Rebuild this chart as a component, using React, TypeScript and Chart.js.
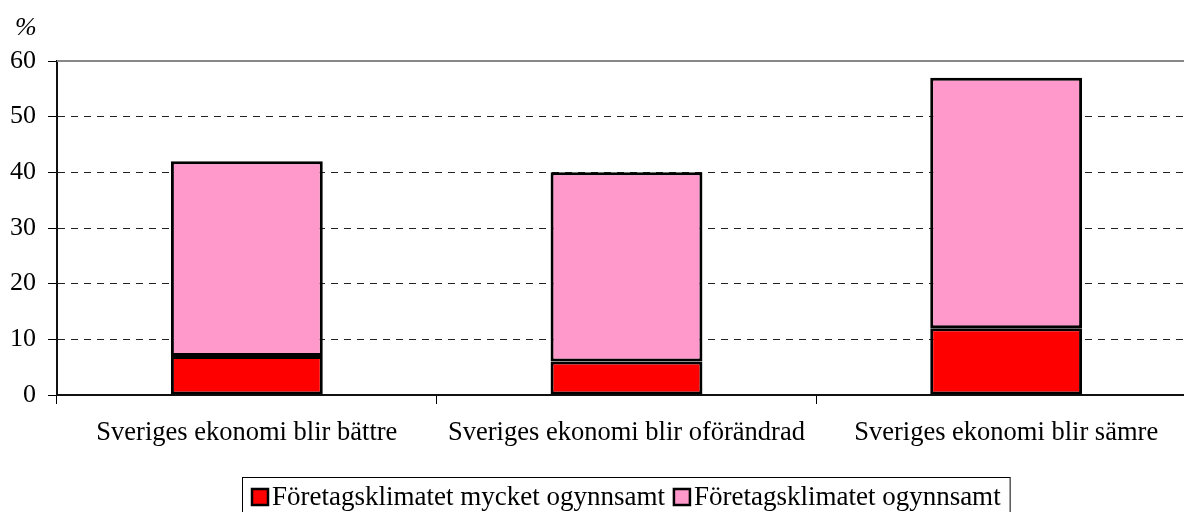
import React, { useEffect, useRef } from "react";
import { Chart, registerables } from "chart.js";

Chart.register(...registerables);

const categories = [
  "Sveriges ekonomi blir bättre",
  "Sveriges ekonomi blir oförändrad",
  "Sveriges ekonomi blir sämre",
];
const seriesLabels = ["Företagsklimatet mycket ogynnsamt", "Företagsklimatet ogynnsamt"];
const mycketOgynnsamt = [7, 6, 12];
const ogynnsamt = [35, 34, 45];
const seriesColors = ["#FF0000", "#FF99CC"];
const yMin = 0;
const yMax = 60;
const yStep = 10;
const unitLabel = "%";

const FONT = "'Liberation Serif', 'Times New Roman', serif";

const overlayPlugin = {
  id: "overlay",
  afterDraw(chart: any) {
    const { ctx, chartArea, scales } = chart;
    ctx.save();
    // solid top gridline
    const yTop = scales.y.getPixelForValue(yMax);
    ctx.strokeStyle = "#888888";
    ctx.lineWidth = 2;
    ctx.beginPath();
    ctx.moveTo(chartArea.left, yTop);
    ctx.lineTo(chartArea.right, yTop);
    ctx.stroke();

    // unit label
    ctx.fillStyle = "#000";
    ctx.font = `italic 26px ${FONT}`;
    ctx.textAlign = "left";
    ctx.textBaseline = "alphabetic";
    ctx.fillText(unitLabel, 15, 35);

    // legend
    ctx.font = `27px ${FONT}`;
    const boxSize = 16;
    const gap = 3;
    const itemSpacing = 8;
    const padX = 9;
    const legendLeft = 242;
    const legendTop = 477;
    const baseline = 505;
    const widths = chart.data.datasets.map((d: any) => ctx.measureText(d.label).width);
    let total = padX * 2;
    widths.forEach((w: number, i: number) => {
      total += boxSize + 2 + gap + w + (i > 0 ? itemSpacing : 0);
    });
    ctx.strokeStyle = "#000";
    ctx.lineWidth = 1;
    ctx.strokeRect(legendLeft + 0.5, legendTop + 0.5, total, 60);
    let x = legendLeft + padX;
    chart.data.datasets.forEach((d: any, i: number) => {
      if (i > 0) x += itemSpacing;
      ctx.fillStyle = d.backgroundColor;
      ctx.fillRect(x + 1, 489, boxSize, boxSize);
      ctx.lineWidth = 2.5;
      ctx.strokeStyle = "#000";
      ctx.strokeRect(x + 1, 489, boxSize, boxSize);
      x += boxSize + 2 + gap;
      ctx.fillStyle = "#000";
      ctx.fillText(d.label, x, baseline);
      x += widths[i];
    });
    ctx.restore();
  },
};

export default function App() {
  const canvasRef = useRef<HTMLCanvasElement | null>(null);

  useEffect(() => {
    if (!canvasRef.current) return;
    const chart = new Chart(canvasRef.current, {
      type: "bar",
      data: {
        labels: categories,
        datasets: [
          {
            label: seriesLabels[0],
            data: mycketOgynnsamt,
            backgroundColor: seriesColors[0],
            borderColor: "#000",
            borderWidth: 3,
            borderSkipped: false,
          },
          {
            label: seriesLabels[1],
            data: ogynnsamt,
            backgroundColor: seriesColors[1],
            borderColor: "#000",
            borderWidth: 3,
            borderSkipped: false,
          },
        ],
      },
      options: {
        animation: false,
        responsive: false,
        devicePixelRatio: 1,
        layout: { padding: { top: 61, left: 0, right: 4, bottom: 0 } },
        datasets: { bar: { barPercentage: 0.4, categoryPercentage: 1 } },
        plugins: {
          legend: { display: false },
          tooltip: { enabled: false },
          title: { display: false },
        },
        scales: {
          x: {
            stacked: true,
            offset: true,
            grid: {
              display: true,
              drawOnChartArea: false,
              drawTicks: true,
              tickLength: 9,
              tickColor: "#000",
              tickWidth: 1,
              offset: true,
            },
            border: { display: true, color: "#111", width: 2 },
            ticks: {
              color: "#000",
              font: { family: FONT, size: 26.5 },
              padding: 13,
              maxRotation: 0,
              autoSkip: false,
            },
            afterFit: (scale: any) => {
              scale.height = 117;
            },
          },
          y: {
            stacked: true,
            min: yMin,
            max: yMax,
            grid: {
              color: (c: any) => (c.tick && c.tick.value === yMax ? "rgba(0,0,0,0)" : "#222"),
              lineWidth: 1,
              drawTicks: true,
              tickLength: 9,
              tickColor: "#000",
              tickWidth: 1,
            },
            border: { display: true, color: "#111", width: 2, dash: [7, 6] },
            ticks: {
              stepSize: yStep,
              color: "#000",
              font: { family: FONT, size: 26 },
              padding: 12,
            },
            afterFit: (scale: any) => {
              scale.width = 57;
            },
          },
        },
      },
      plugins: [overlayPlugin],
    });
    return () => chart.destroy();
  }, []);

  return (
    <div
      style={{
        position: "absolute",
        left: 0,
        top: 0,
        width: 1184,
        height: 512,
        overflow: "hidden",
        background: "#fff",
      }}
    >
      <canvas ref={canvasRef} width={1200} height={512} style={{ width: 1200, height: 512, display: "block" }} />
    </div>
  );
}
